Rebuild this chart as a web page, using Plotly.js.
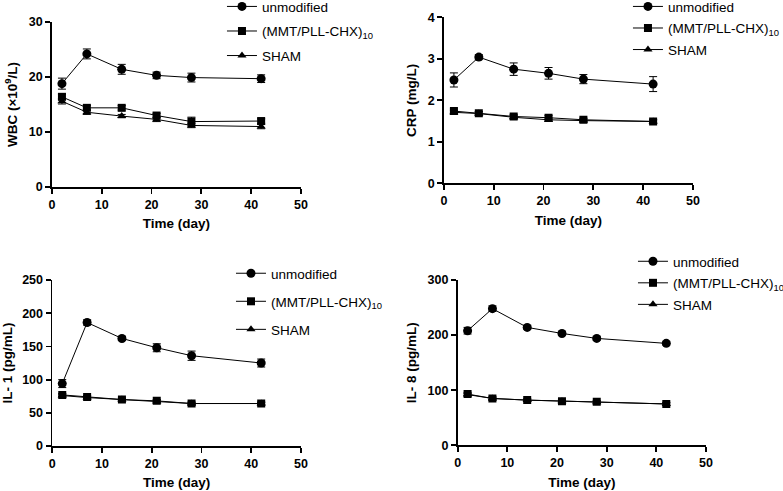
<!DOCTYPE html>
<html>
<head>
<meta charset="utf-8">
<script src="https://cdn.plot.ly/plotly-3.0.1.min.js"></script>
<style>
  body { margin: 0; background: #fff; }
  #chartDiv { width: 783px; height: 491px; }
</style>
</head>
<body>
<div id="chartDiv"></div>
<script>
"use strict";

// sampling days shared by every panel
const days = [2, 7, 14, 21, 28, 42];
const seriesNames = ["unmodified", "(MMT/PLL-CHX)<sub>10</sub>", "SHAM"];

// WBC (x10^9/L)
const wbcUnmodified = [18.8, 24.2, 21.4, 20.3, 19.9, 19.7];
const wbcUnmodifiedErr = [1.0, 0.9, 0.9, 0.6, 0.8, 0.7];
const wbcMmt = [16.4, 14.4, 14.4, 13.0, 11.9, 12.0];
const wbcMmtErr = [0.5, 0.4, 0.4, 0.4, 0.8, 0.4];
const wbcSham = [15.6, 13.6, 12.9, 12.3, 11.2, 11.0];
const wbcShamErr = [0.5, 0.4, 0.3, 0.4, 0.4, 0.4];

// CRP (mg/L)
const crpUnmodified = [2.49, 3.04, 2.75, 2.65, 2.51, 2.39];
const crpUnmodifiedErr = [0.17, 0.06, 0.15, 0.14, 0.11, 0.18];
const crpMmt = [1.74, 1.69, 1.61, 1.58, 1.53, 1.49];
const crpMmtErr = [0.05, 0.04, 0.05, 0.05, 0.04, 0.04];
const crpSham = [1.71, 1.68, 1.59, 1.53, 1.51, 1.49];
const crpShamErr = [0.04, 0.04, 0.04, 0.04, 0.04, 0.04];

// IL-1 (pg/mL)
const il1Unmodified = [94, 186, 162, 148, 136, 125];
const il1UnmodifiedErr = [6, 4, 3, 6, 7, 6];
const il1Mmt = [77, 74, 70, 68, 64, 64];
const il1MmtErr = [2, 2, 2, 2, 2, 2];
const il1Sham = [76, 73, 70, 67, 64, 64];
const il1ShamErr = [2, 2, 2, 2, 2, 2];

// IL-8 (pg/mL)
const il8Unmodified = [208, 248, 214, 203, 194, 185];
const il8UnmodifiedErr = [6, 5, 3, 3, 3, 3];
const il8Mmt = [93, 85, 82, 80, 79, 75];
const il8MmtErr = [3, 3, 2, 2, 2, 3];
const il8Sham = [92, 85, 82, 80, 78, 75];
const il8ShamErr = [2, 2, 2, 2, 2, 2];

const fontFamily = "Liberation Sans, Arial, sans-serif";
const markerSizes = { "circle": 9, "square": 8, "triangle-up": 8 };

function makeTrace(y, err, name, symbol, axisIndex, rank) {
    const suffix = axisIndex === 1 ? "" : String(axisIndex);
    return {
        x: days,
        y: y,
        error_y: { type: "data", array: err, visible: true, color: "#000", thickness: 1, width: 4 },
        name: name,
        type: "scatter",
        mode: "lines+markers",
        line: { color: "#000", width: 1 },
        marker: { color: "#000", symbol: symbol, size: markerSizes[symbol] },
        xaxis: "x" + suffix,
        yaxis: "y" + suffix,
        legend: "legend" + suffix,
        legendgroup: "g" + axisIndex + "_" + rank,
        legendrank: rank
    };
}

function panelTraces(axisIndex, unmod, unmodErr, mmt, mmtErr, sham, shamErr) {
    // SHAM is drawn under the squares, as in the figure
    return [
        makeTrace(unmod, unmodErr, seriesNames[0], "circle", axisIndex, 1),
        makeTrace(sham, shamErr, seriesNames[2], "triangle-up", axisIndex, 3),
        makeTrace(mmt, mmtErr, seriesNames[1], "square", axisIndex, 2)
    ];
}

const data = [].concat(
    panelTraces(1, wbcUnmodified, wbcUnmodifiedErr, wbcMmt, wbcMmtErr, wbcSham, wbcShamErr),
    panelTraces(2, crpUnmodified, crpUnmodifiedErr, crpMmt, crpMmtErr, crpSham, crpShamErr),
    panelTraces(3, il1Unmodified, il1UnmodifiedErr, il1Mmt, il1MmtErr, il1Sham, il1ShamErr),
    panelTraces(4, il8Unmodified, il8UnmodifiedErr, il8Mmt, il8MmtErr, il8Sham, il8ShamErr)
);

function xAxis(domain, anchor) {
    return {
        domain: domain,
        anchor: anchor,
        range: [0, 50],
        dtick: 10,
        showgrid: false,
        zeroline: false,
        showline: true,
        linecolor: "#000",
        linewidth: 1.8,
        ticks: "outside",
        ticklen: 5,
        tickwidth: 1.8,
        tickcolor: "#000",
        automargin: false,
        tickfont: { family: fontFamily, size: 12.5, color: "#000", weight: "bold" },
        title: { text: "Time (day)", font: { family: fontFamily, size: 13.5, color: "#000", weight: "bold" }, standoff: 8 }
    };
}

function yAxis(domain, anchor, range, dtick, titleText) {
    return {
        domain: domain,
        anchor: anchor,
        range: range,
        dtick: dtick,
        showgrid: false,
        zeroline: false,
        showline: true,
        linecolor: "#000",
        linewidth: 1.8,
        ticks: "outside",
        ticklen: 5,
        tickwidth: 1.8,
        tickcolor: "#000",
        automargin: false,
        tickfont: { family: fontFamily, size: 12.5, color: "#000", weight: "bold" },
        title: { text: titleText, font: { family: fontFamily, size: 13.5, color: "#000", weight: "bold" }, standoff: 8 }
    };
}

function legendBox(x, y, gap) {
    return {
        x: x,
        y: y,
        xanchor: "left",
        yanchor: "top",
        traceorder: "grouped",
        tracegroupgap: gap,
        bgcolor: "rgba(0,0,0,0)",
        font: { family: fontFamily, size: 13.5, color: "#000" }
    };
}

const layout = {
    width: 783,
    height: 491,
    margin: { l: 0, r: 0, t: 0, b: 0, pad: 0, autoexpand: false },
    paper_bgcolor: "#fff",
    plot_bgcolor: "#fff",
    showlegend: true,
    font: { family: fontFamily, color: "#000" },
    xaxis: xAxis([0.0664, 0.3844], "y"),
    yaxis: yAxis([0.619, 0.9552], "x", [0, 30], 10, "WBC (×10<sup>9</sup>/L)"),
    xaxis2: xAxis([0.567, 0.885], "y2"),
    yaxis2: yAxis([0.6267, 0.9648], "x2", [0, 4], 1, "CRP (mg/L)"),
    xaxis3: xAxis([0.0668, 0.3844], "y3"),
    yaxis3: yAxis([0.0916, 0.4297], "x3", [0, 250], 50, "IL- 1 (pg/mL)"),
    xaxis4: xAxis([0.5845, 0.9017], "y4"),
    yaxis4: yAxis([0.0931, 0.4297], "x4", [0, 300], 100, "IL- 8 (pg/mL)"),
    legend: legendBox(0.2835, 1.018, 4),
    legend2: legendBox(0.802, 1.018, 1),
    legend3: legendBox(0.295, 0.4746, 7.5),
    legend4: legendBox(0.8084, 0.499, 1)
};

Plotly.newPlot("chartDiv", data, layout, { displayModeBar: false, staticPlot: true });
</script>
</body>
</html>
